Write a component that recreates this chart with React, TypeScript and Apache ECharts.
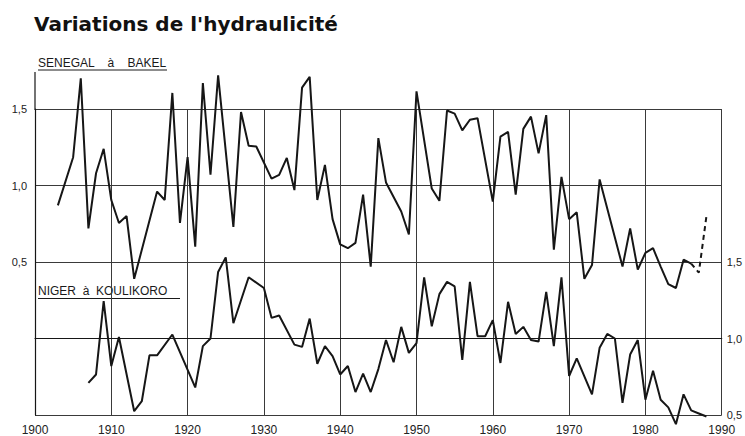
import { useEffect, useRef } from 'react';
import * as echarts from 'echarts';

const senegalYears = [1903, 1905, 1906, 1907, 1908, 1909, 1910, 1911, 1912, 1913, 1916, 1917, 1918, 1919, 1920, 1921, 1922, 1923, 1924, 1926, 1927, 1928, 1929, 1931, 1932, 1933, 1934, 1935, 1936, 1937, 1938, 1939, 1940, 1941, 1942, 1943, 1944, 1945, 1946, 1948, 1949, 1950, 1952, 1953, 1954, 1955, 1956, 1957, 1958, 1960, 1961, 1962, 1963, 1964, 1965, 1966, 1967, 1968, 1969, 1970, 1971, 1972, 1973, 1974, 1977, 1978, 1979, 1980, 1981, 1982, 1983, 1984, 1985, 1986];
const senegalValues = [0.87, 1.185, 1.70, 0.72, 1.08, 1.24, 0.905, 0.755, 0.80, 0.39, 0.96, 0.905, 1.605, 0.755, 1.185, 0.60, 1.67, 1.07, 1.72, 0.73, 1.48, 1.26, 1.255, 1.045, 1.07, 1.18, 0.97, 1.64, 1.71, 0.905, 1.135, 0.78, 0.615, 0.59, 0.625, 0.94, 0.47, 1.31, 1.02, 0.83, 0.68, 1.615, 0.98, 0.90, 1.49, 1.47, 1.36, 1.43, 1.44, 0.895, 1.32, 1.35, 0.94, 1.37, 1.45, 1.21, 1.46, 0.58, 1.056, 0.78, 0.825, 0.39, 0.48, 1.04, 0.47, 0.72, 0.45, 0.56, 0.59, 0.47, 0.355, 0.33, 0.515, 0.49];
const senegalDashYears = [1986, 1987, 1988];
const senegalDashValues = [0.49, 0.43, 0.80];

const nigerYears = [1907, 1908, 1909, 1910, 1911, 1913, 1914, 1915, 1916, 1918, 1921, 1922, 1923, 1924, 1925, 1926, 1928, 1930, 1931, 1932, 1934, 1935, 1936, 1937, 1938, 1939, 1940, 1941, 1942, 1943, 1944, 1945, 1946, 1947, 1948, 1949, 1950, 1951, 1952, 1953, 1954, 1955, 1956, 1957, 1958, 1959, 1960, 1961, 1962, 1963, 1964, 1965, 1966, 1967, 1968, 1969, 1970, 1971, 1973, 1974, 1975, 1976, 1977, 1978, 1979, 1980, 1981, 1982, 1983, 1984, 1985, 1986, 1987, 1988];
const nigerValues = [0.71, 0.765, 1.245, 0.82, 1.01, 0.525, 0.59, 0.89, 0.89, 1.026, 0.68, 0.95, 1.0, 1.435, 1.53, 1.10, 1.40, 1.33, 1.135, 1.15, 0.96, 0.945, 1.13, 0.835, 0.95, 0.885, 0.765, 0.82, 0.65, 0.77, 0.65, 0.80, 0.99, 0.845, 1.076, 0.906, 0.97, 1.40, 1.08, 1.29, 1.37, 1.34, 0.86, 1.37, 1.015, 1.015, 1.12, 0.84, 1.24, 1.03, 1.076, 0.99, 0.98, 1.305, 0.95, 1.40, 0.755, 0.87, 0.635, 0.94, 1.03, 1.0, 0.58, 0.895, 0.99, 0.60, 0.79, 0.60, 0.55, 0.44, 0.635, 0.53, 0.51, 0.49];

const xMin = 1900;
const xMax = 1990;
const xStep = 10;
const leftLabelValues = [0.5, 1.0, 1.5];
const rightLabelValues = [0.5, 1.0, 1.5];

const TITLE = "Variations de l'hydraulicité";
const SENEGAL_LABEL = 'SENEGAL    à    BAKEL';
const NIGER_LABEL = 'NIGER  à  KOULIKORO';

const fmt = (v: number) => v.toFixed(1).replace('.', ',');

export default function App() {
  const ref = useRef<HTMLDivElement>(null);
  useEffect(() => {
    if (!ref.current) return;
    const chart = echarts.init(ref.current, null, { renderer: 'svg' });
    const pair = (xs: number[], ys: number[]) => xs.map((x, i) => [x, ys[i]]);
    const ink = '#161616';
    const gridColor = '#3a3a3a';
    const labelFont = 'Liberation Sans, Arial, sans-serif';
    chart.setOption({
      animation: false,
      backgroundColor: '#ffffff',
      grid: { left: 35, right: 19, top: 109, bottom: 19, containLabel: false },
      xAxis: {
        type: 'value',
        min: xMin,
        max: xMax,
        interval: xStep,
        axisLine: { show: true, lineStyle: { color: ink, width: 1.2 } },
        axisTick: { show: false },
        splitLine: { show: true, lineStyle: { color: gridColor, width: 1 } },
        axisLabel: { color: '#222', fontSize: 12, margin: 9, fontFamily: labelFont, formatter: (v: number) => String(v) },
      },
      yAxis: [
        {
          type: 'value',
          min: -0.5,
          max: 1.5,
          interval: 0.5,
          position: 'left',
          axisLine: { show: true, lineStyle: { color: ink, width: 1.2 } },
          axisTick: { show: false },
          splitLine: { show: true, lineStyle: { color: gridColor, width: 1 } },
          axisLabel: {
            color: '#222',
            fontSize: 11,
            margin: 8,
            fontFamily: labelFont,
            formatter: (v: number) => (leftLabelValues.some((t) => Math.abs(t - v) < 1e-6) ? fmt(v) : ''),
          },
        },
        {
          type: 'value',
          min: 0.5,
          max: 2.5,
          interval: 0.5,
          position: 'right',
          axisLine: { show: false },
          axisTick: { show: false },
          splitLine: { show: false },
          axisLabel: {
            color: '#222',
            fontSize: 11,
            margin: 5,
            fontFamily: labelFont,
            formatter: (v: number) => (rightLabelValues.some((t) => Math.abs(t - v) < 1e-6) ? fmt(v) : ''),
          },
        },
      ],
      graphic: [
        {
          type: 'text',
          left: 34,
          top: 14,
          style: {
            text: TITLE,
            fontSize: 20,
            fontWeight: 'bold',
            fontFamily: 'DejaVu Sans, sans-serif',
            fill: '#111',
            textShadowColor: '#9a9a9a',
            textShadowOffsetX: 2,
            textShadowOffsetY: 1.5,
            textShadowBlur: 0,
          },
        },
        {
          type: 'text',
          left: 38,
          top: 57,
          style: { text: SENEGAL_LABEL, fontSize: 12, fontFamily: labelFont, fill: '#1a1a1a' },
        },
        { type: 'line', shape: { x1: 38, y1: 70, x2: 167, y2: 70 }, style: { stroke: '#1a1a1a', lineWidth: 1 } },
        {
          type: 'text',
          left: 38,
          top: 285,
          style: { text: NIGER_LABEL, fontSize: 12, fontFamily: labelFont, fill: '#1a1a1a' },
        },
        { type: 'line', shape: { x1: 38, y1: 298.5, x2: 180, y2: 298.5 }, style: { stroke: '#1a1a1a', lineWidth: 1 } },
        { type: 'line', shape: { x1: 35, y1: 72, x2: 35, y2: 110 }, style: { stroke: ink, lineWidth: 1.2 } },
      ],
      series: [
        {
          name: 'SENEGAL à BAKEL',
          type: 'line',
          yAxisIndex: 0,
          data: pair(senegalYears, senegalValues),
          symbol: 'none',
          clip: false,
          lineStyle: { color: ink, width: 2 },
        },
        {
          name: 'SENEGAL à BAKEL (provisoire)',
          type: 'line',
          yAxisIndex: 0,
          data: pair(senegalDashYears, senegalDashValues),
          symbol: 'none',
          clip: false,
          lineStyle: { color: ink, width: 2, type: [5, 4] },
        },
        {
          name: 'NIGER à KOULIKORO',
          type: 'line',
          yAxisIndex: 1,
          data: pair(nigerYears, nigerValues),
          symbol: 'none',
          clip: false,
          lineStyle: { color: ink, width: 2 },
        },
      ],
    });
    return () => chart.dispose();
  }, []);
  return <div ref={ref} style={{ position: 'absolute', left: 0, top: 0, width: 745, height: 436 }} />;
}
